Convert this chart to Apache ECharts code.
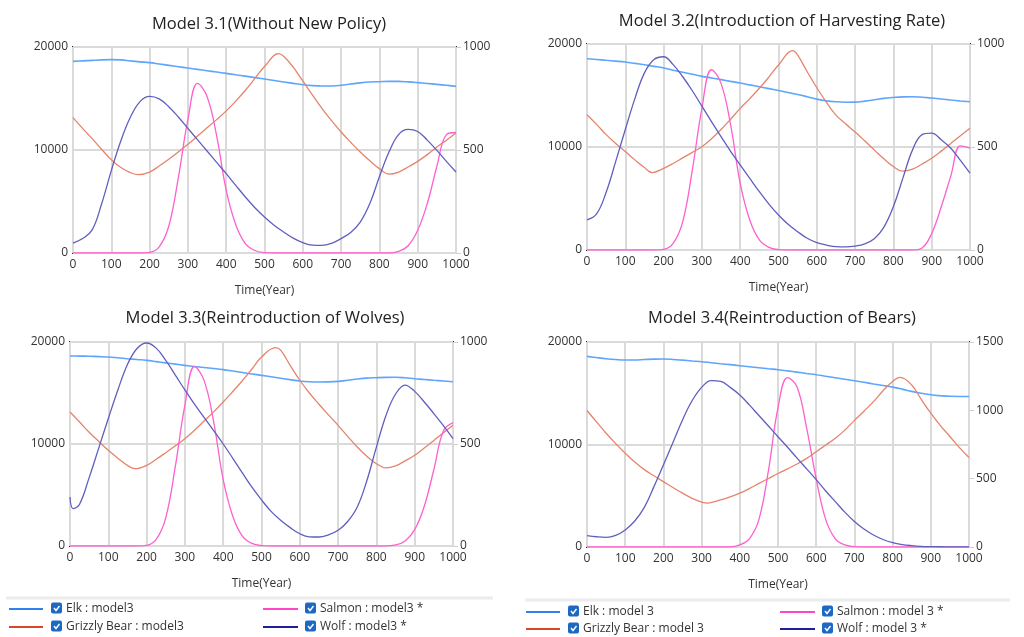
<!DOCTYPE html>
<html>
<head>
<meta charset="utf-8">
<script src="https://cdn.jsdelivr.net/npm/echarts@6/dist/echarts.min.js"></script>
<style>
  html, body { margin: 0; padding: 0; background: #fff; }
  #main { width: 1024px; height: 637px; }
</style>
</head>
<body>
<div id="main"></div>
<script>
// years sampled every 25
var years = [0, 25, 50, 75, 100, 125, 150, 175, 200, 225, 250, 275, 300, 325, 350, 375, 400, 425, 450, 475, 500,
  525, 550, 575, 600, 625, 650, 675, 700, 725, 750, 775, 800, 825, 850, 875, 900, 925, 950, 975, 1000];
// wolf in model 3.3 has a quick dip at the start
var yearsWolf3 = [0, 8, 25, 50, 75, 100, 125, 150, 175, 200, 225, 250, 275, 300, 325, 350, 375, 400, 425, 450, 475, 500,
  525, 550, 575, 600, 625, 650, 675, 700, 725, 750, 775, 800, 825, 850, 875, 900, 925, 950, 975, 1000];
// bear curves have sharp turns, sampled at the turning years
var yearsBear = [0, 25, 50, 75, 100, 125, 150, 170, 200, 225, 250, 275, 300, 325, 350, 375, 400, 425, 450, 475, 500,
  537, 550, 575, 600, 625, 650, 675, 700, 725, 750, 775, 800, 825, 850, 875, 900, 925, 950, 975, 1000];
var yearsBear4 = [0, 25, 50, 75, 100, 125, 150, 175, 200, 225, 250, 275, 300, 317, 350, 375, 400, 425, 450, 475, 500,
  525, 550, 575, 600, 625, 650, 675, 700, 725, 750, 775, 800, 820, 850, 875, 900, 925, 950, 975, 1000];
var xTicks = [0, 100, 200, 300, 400, 500, 600, 700, 800, 900, 1000];

var titles = ['Model 3.1(Without New Policy)', 'Model 3.2(Introduction of Harvesting Rate)',
  'Model 3.3(Reintroduction of Wolves)', 'Model 3.4(Reintroduction of Bears)'];
var rightMax = [1000, 1000, 1000, 1500];

// Model 3.1
var elk1 = [18600, 18650, 18700, 18750, 18770, 18750, 18650, 18560, 18480, 18350, 18220, 18090, 17960, 17830, 17700, 17570, 17440, 17300, 17170, 17030, 16890,
  16750, 16610, 16470, 16340, 16250, 16210, 16220, 16280, 16400, 16520, 16600, 16630, 16660, 16660, 16610, 16540, 16460, 16370, 16280, 16180];
var bear1 = [13140, 12100, 11100, 10050, 9060, 8300, 7800, 7600, 7860, 8450, 9100, 9800, 10550, 11350, 12150, 12950, 13800, 14750, 15800, 16950, 18100,
  19350, 19100, 18050, 16700, 15350, 14050, 12850, 11750, 10750, 9800, 8950, 8190, 7650, 7860, 8350, 8900, 9550, 10290, 10950, 11650];
var salmon1 = [0, 0, 0, 0, 0, 0, 0, 0, 3, 30, 130, 365, 647, 823, 760, 570, 305, 137, 46, 12, 2,
  0, 0, 0, 0, 0, 0, 0, 0, 0, 0, 0, 0, 0, 8, 35, 110, 240, 420, 575, 585];
var wolf1 = [48, 70, 112, 240, 400, 545, 660, 735, 760, 748, 710, 660, 605, 550, 495, 440, 385, 328, 272, 220, 175,
  135, 102, 72, 50, 38, 37, 47, 70, 100, 150, 240, 370, 490, 575, 600, 590, 548, 498, 445, 393];

// Model 3.2
var elk2 = [18570, 18500, 18420, 18340, 18250, 18120, 17980, 17830, 17670, 17460, 17260, 17060, 16860, 16700, 16540, 16370, 16210, 16030, 15850, 15670, 15490,
  15300, 15100, 14880, 14650, 14480, 14390, 14350, 14360, 14450, 14580, 14720, 14810, 14870, 14880, 14830, 14750, 14660, 14560, 14470, 14390];
var bear2 = [13130, 12200, 11200, 10350, 9560, 8750, 8000, 7510, 7930, 8400, 8950, 9480, 10030, 10800, 11700, 12700, 13750, 14700, 15700, 16800, 17960,
  19350, 18930, 17310, 15750, 14350, 13100, 12250, 11450, 10600, 9720, 8850, 8100, 7650, 7850, 8350, 8910, 9600, 10350, 11100, 11830];
var salmon2 = [0, 0, 0, 0, 0, 0, 0, 0, 3, 32, 138, 388, 688, 875, 809, 607, 324, 146, 49, 13, 2,
  0, 0, 0, 0, 0, 0, 0, 0, 0, 0, 0, 0, 0, 0, 10, 80, 210, 360, 505, 495];
var wolf2 = [146, 175, 280, 430, 585, 735, 860, 925, 938, 900, 841, 773, 698, 623, 550, 479, 413, 348, 283, 223, 170,
  125, 89, 57, 36, 24, 16, 15, 19, 30, 55, 110, 211, 350, 486, 560, 567, 535, 494, 435, 373];

// Model 3.3
var elk3 = [18630, 18620, 18600, 18570, 18530, 18450, 18360, 18280, 18200, 18080, 17950, 17830, 17710, 17600, 17500, 17400, 17290, 17150, 17010, 16870, 16730,
  16590, 16450, 16310, 16180, 16110, 16080, 16090, 16140, 16250, 16370, 16460, 16500, 16530, 16540, 16490, 16400, 16330, 16250, 16180, 16110];
var bear3 = [13140, 12150, 11150, 10250, 9380, 8600, 7900, 7580, 7900, 8500, 9150, 9820, 10520, 11350, 12250, 13150, 14120, 15150, 16200, 17350, 18530,
  19440, 19200, 17700, 16250, 15000, 13900, 12850, 11830, 10750, 9700, 8800, 8070, 7650, 7850, 8350, 8890, 9600, 10350, 11100, 11830];
var salmon3 = [0, 0, 0, 0, 0, 0, 0, 0, 3, 32, 138, 390, 690, 880, 812, 610, 325, 146, 49, 13, 2,
  0, 0, 0, 0, 0, 0, 0, 0, 0, 0, 0, 0, 0, 5, 25, 80, 195, 375, 565, 605];
var wolf3 = [240, 183, 205, 335, 480, 625, 765, 890, 968, 995, 970, 910, 838, 765, 695, 630, 566, 500, 430, 358, 288, 226,
  170, 126, 90, 60, 45, 44, 55, 77, 120, 191, 320, 485, 640, 745, 789, 758, 706, 649, 590, 526];

// Model 3.4
var elk4 = [18600, 18480, 18370, 18290, 18240, 18250, 18290, 18330, 18340, 18300, 18230, 18150, 18080, 17980, 17880, 17790, 17690, 17590, 17490, 17390, 17300,
  17180, 17060, 16930, 16810, 16660, 16520, 16370, 16220, 16070, 15910, 15760, 15600, 15400, 15180, 15000, 14850, 14760, 14700, 14690, 14690];
var bear4 = [13320, 12200, 11100, 10100, 9150, 8300, 7550, 6950, 6380, 5800, 5250, 4750, 4380, 4290, 4600, 4900, 5250, 5700, 6200, 6680, 7170,
  7620, 8100, 8650, 9300, 9950, 10600, 11400, 12350, 13250, 14180, 15250, 16150, 16550, 15800, 14400, 13060, 11850, 10780, 9700, 8730];
var salmon4 = [0, 0, 0, 0, 0, 0, 0, 0, 0, 0, 0, 0, 0, 0, 0, 0, 15, 60, 200, 560, 1020,
  1240, 1170, 870, 500, 200, 60, 15, 3, 0, 0, 0, 0, 0, 0, 0, 0, 0, 0, 0, 0];
var wolf4 = [83, 75, 71, 85, 125, 190, 290, 440, 600, 765, 930, 1070, 1168, 1218, 1212, 1168, 1112, 1040, 962, 885, 807,
  730, 650, 572, 493, 410, 332, 255, 187, 132, 88, 55, 32, 18, 10, 5, 3, 2, 1, 1, 1];

var panels = [
  { elk: elk1, bear: bear1, salmon: salmon1, wolf: wolf1, bearYears: yearsBear, wolfYears: years },
  { elk: elk2, bear: bear2, salmon: salmon2, wolf: wolf2, bearYears: yearsBear, wolfYears: years },
  { elk: elk3, bear: bear3, salmon: salmon3, wolf: wolf3, bearYears: yearsBear, wolfYears: yearsWolf3 },
  { elk: elk4, bear: bear4, salmon: salmon4, wolf: wolf4, bearYears: yearsBear4, wolfYears: years }
];

var legendLeft = ['Elk : model3', 'Grizzly Bear : model3', 'Salmon : model3 *', 'Wolf : model3 *'];
var legendRight = ['Elk : model 3', 'Grizzly Bear : model 3', 'Salmon : model 3 *', 'Wolf : model 3 *'];

var plotColors = ['#5ea5fb', '#e5846c', '#ff5fcf', '#5f5fbf'];
var keyColors = ['#2f82ee', '#d9472a', '#ff45c8', '#1f1f98'];
var FONT = '"Open Sans", "Noto Sans", sans-serif';

var grids = [
  { left: 73, top: 47, width: 383, height: 206 },
  { left: 587, top: 44, width: 383, height: 206 },
  { left: 70, top: 342, width: 383, height: 204 },
  { left: 587, top: 342, width: 382, height: 205 }
];
var titlePos = [[264, 11], [777, 8], [260, 305], [777, 305]];

function pairs(xs, ys) {
  return ys.map(function (v, i) { return [xs[i], v]; });
}
function plain(v) { return String(v); }

var chart = echarts.init(document.getElementById('main'), null, { renderer: 'canvas' });

var xAxes = [], yAxes = [], series = [], title = [];
grids.forEach(function (g, k) {
  g.show = true;
  g.borderColor = '#2b2b2b';
  g.borderWidth = 2;
  g.containLabel = false;
  title.push({
    text: titles[k], left: titlePos[k][0], top: titlePos[k][1], textAlign: 'center',
    textStyle: { fontFamily: FONT, fontSize: 16.5, fontWeight: 'normal', color: '#222' }
  });
  xAxes.push({
    type: 'value', gridIndex: k, min: xTicks[0], max: xTicks[xTicks.length - 1], interval: 100,
    name: 'Time(Year)', nameLocation: 'middle', nameGap: 32,
    nameTextStyle: { fontFamily: FONT, fontSize: 12, color: '#333', fontWeight: 500 },
    axisLine: { show: false }, axisTick: { show: false },
    axisLabel: { fontFamily: FONT, fontSize: 12, color: '#333', margin: 6, formatter: plain },
    splitLine: { show: true, lineStyle: { color: '#dadada', width: 2 } }
  });
  yAxes.push({
    type: 'value', gridIndex: k, position: 'left', min: 0, max: 20000, interval: 10000,
    axisLine: { show: false }, axisTick: { show: false },
    axisLabel: { fontFamily: FONT, fontSize: 12, color: '#333', margin: 5, formatter: plain },
    splitLine: { show: true, lineStyle: { color: '#dadada', width: 2 } }
  });
  yAxes.push({
    type: 'value', gridIndex: k, position: 'right', min: 0, max: rightMax[k], interval: 500,
    axisLine: { show: false },
    axisTick: { show: true, length: 5, lineStyle: { color: '#cfcfcf' } },
    axisLabel: { fontFamily: FONT, fontSize: 12, color: '#333', margin: 7, formatter: plain },
    splitLine: { show: false }
  });
  var p = panels[k];
  var sets = [
    { name: 'Elk', data: pairs(years, p.elk), y: 2 * k },
    { name: 'Grizzly Bear', data: pairs(p.bearYears, p.bear), y: 2 * k },
    { name: 'Salmon', data: pairs(years, p.salmon), y: 2 * k + 1 },
    { name: 'Wolf', data: pairs(p.wolfYears, p.wolf), y: 2 * k + 1 }
  ];
  sets.forEach(function (s, j) {
    series.push({
      name: s.name, type: 'line', xAxisIndex: k, yAxisIndex: s.y, data: s.data,
      smooth: 0.4, showSymbol: false, clip: true, z: 2 + j,
      lineStyle: { color: plotColors[j], width: j === 0 ? 1.6 : 1.3 }
    });
  });
});

// legend boxes drawn by hand (line, ticked checkbox, label)
var graphic = [];
function legendBlock(names, sepY, x0, x1, rows, cols) {
  graphic.push({ type: 'line', shape: { x1: x0, y1: sepY, x2: x1, y2: sepY }, style: { stroke: '#ececec', lineWidth: 3 }, silent: true });
  names.forEach(function (nm, i) {
    var c = cols[Math.floor(i / 2)], y = rows[i % 2];
    graphic.push({ type: 'line', shape: { x1: c[0], y1: y, x2: c[1], y2: y }, style: { stroke: keyColors[i], lineWidth: 2 }, silent: true });
    graphic.push({ type: 'rect', shape: { x: c[2], y: y - 6.5, width: 11, height: 11, r: 2 }, style: { fill: '#1d69c2' }, silent: true });
    graphic.push({ type: 'polyline', shape: { points: [[c[2] + 3, y - 1], [c[2] + 5, y + 1.5], [c[2] + 8.5, y - 3]] },
      style: { stroke: '#fff', lineWidth: 1.4, fill: null }, silent: true });
    graphic.push({ type: 'text', x: c[3], y: y, style: { text: nm, font: '12px ' + FONT, fill: '#333', verticalAlign: 'middle' }, silent: true });
  });
}
legendBlock(legendLeft, 598, 6, 493, [609, 627], [[9, 43, 51, 66], [263, 298, 305, 320]]);
legendBlock(legendRight, 600, 525, 1010, [612, 629], [[526, 560, 568, 583], [780, 815, 822, 837]]);

chart.setOption({
  animation: false,
  backgroundColor: '#fff',
  title: title,
  grid: grids,
  xAxis: xAxes,
  yAxis: yAxes,
  series: series,
  graphic: graphic
});
</script>
</body>
</html>
